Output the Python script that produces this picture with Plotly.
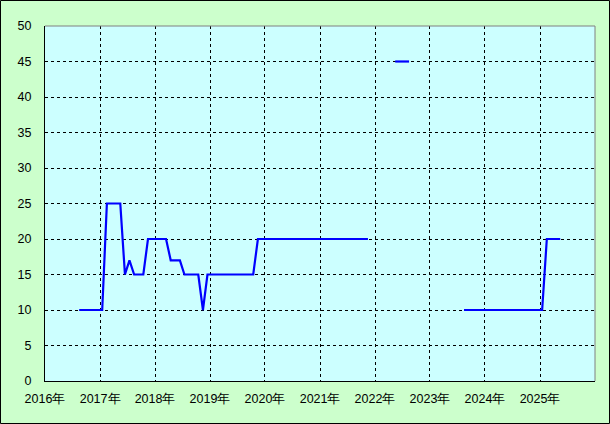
import pandas as pd
import plotly.graph_objects as go

# Monthly series, Aug 2016 .. May 2025 (plotted at mid-month)
start_month = "2016-08"
end_month = "2025-05"
values = [
    # 2016 Aug-Dec
    10, 10, 10, 10, 10,
    # 2017
    10, 25, 25, 25, 25, 15, 17, 15, 15, 15, 20, 20,
    # 2018
    20, 20, 20, 17, 17, 17, 15, 15, 15, 15, 10, 15,
    # 2019
    15, 15, 15, 15, 15, 15, 15, 15, 15, 15, 20, 20,
    # 2020
    20, 20, 20, 20, 20, 20, 20, 20, 20, 20, 20, 20,
    # 2021
    20, 20, 20, 20, 20, 20, 20, 20, 20, 20, 20, None,
    # 2022
    None, None, None, None, 45, 45, 45, 45, None, None, None, None,
    # 2023
    None, None, None, None, None, None, None, 10, 10, 10, 10, 10,
    # 2024
    10, 10, 10, 10, 10, 10, 10, 10, 10, 10, 10, 10,
    # 2025 Jan-May
    10, 20, 20, 20, 20,
]
years = list(range(2016, 2026))
year_labels = [f"{y}年" for y in years]
y_ticks = list(range(0, 51, 5))

months = pd.period_range(start_month, end_month, freq="M")
dates = [p.to_timestamp() + pd.Timedelta(days=14) for p in months]

fig = go.Figure()
fig.add_trace(go.Scatter(
    x=dates, y=values, mode="lines",
    line=dict(color="#0000FF", width=2.2),
    connectgaps=False, showlegend=False, hoverinfo="skip",
))

font = dict(family="Liberation Sans, Arial, sans-serif", size=12.5, color="#000000")

fig.update_layout(
    width=610, height=424,
    margin=dict(l=45, r=15, t=26, b=43),
    paper_bgcolor="#CCFFCC",
    plot_bgcolor="#CCFFFF",
    font=font,
    showlegend=False,
    xaxis=dict(
        type="date",
        range=["2016-01-01", "2026-01-01"],
        tickvals=[f"{y}-01-01" for y in years],
        ticktext=year_labels,
        showgrid=True, gridcolor="#000000", gridwidth=1, griddash="3px,3px",
        showline=True, linecolor="#000000", linewidth=1,
        ticks="", zeroline=False, ticklabelstandoff=6,
        fixedrange=True,
    ),
    yaxis=dict(
        range=[0, 50],
        tickvals=y_ticks,
        showgrid=True, gridcolor="#000000", gridwidth=1, griddash="3px,3px",
        showline=True, linecolor="#000000", linewidth=1,
        ticks="", zeroline=False, ticklabelstandoff=10,
        fixedrange=True,
    ),
    shapes=[
        # top and right plot border (gray)
        dict(type="line", xref="paper", yref="paper", x0=0, x1=1, y0=1, y1=1,
             line=dict(color="#808080", width=1)),
        dict(type="line", xref="paper", yref="paper", x0=1, x1=1, y0=0, y1=1,
             line=dict(color="#808080", width=1)),
        # outer frame
        dict(type="rect", xref="paper", yref="paper",
             x0=-44.5 / 550, x1=1 + 14.5 / 550,
             y0=-42.5 / 355, y1=1 + 25.5 / 355,
             line=dict(color="#000000", width=1), fillcolor="rgba(0,0,0,0)"),
    ],
)

fig.write_html("out.html", config={"displayModeBar": False})

# remove the default page margin so the figure sits at the window origin
with open("out.html", "r", encoding="utf-8") as f:
    html = f.read()
html = html.replace("<body>", '<body style="margin:0;padding:0;overflow:hidden">', 1)
with open("out.html", "w", encoding="utf-8") as f:
    f.write(html)
